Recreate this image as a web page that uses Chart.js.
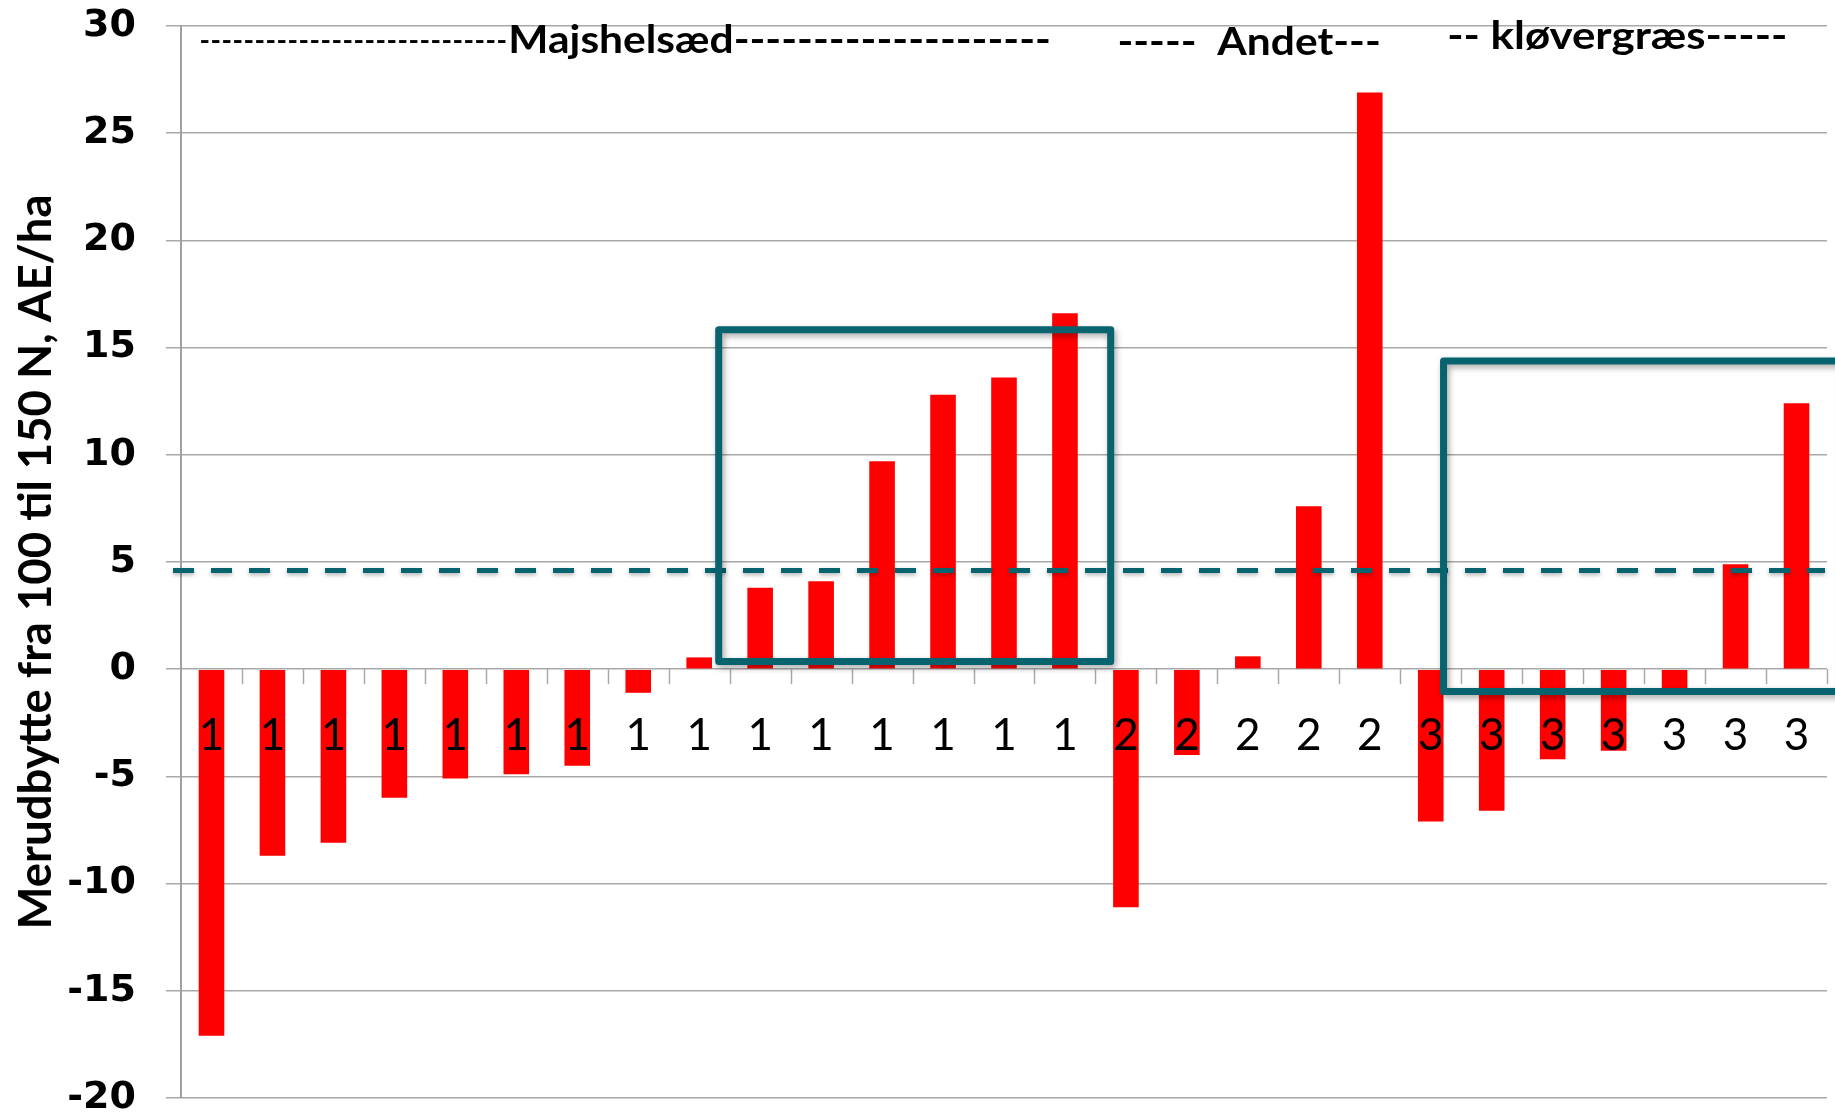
<!DOCTYPE html>
<html>
<head>
<meta charset="utf-8">
<script src="https://cdn.jsdelivr.net/npm/chart.js@4.4.1/dist/chart.umd.min.js"></script>
<style>
    html, body { margin: 0; padding: 0; background: #fff; }
</style>
</head>
<body>
<canvas id="myChart" width="1835" height="1118"></canvas>
<script>
// groups: 1 = Majshelsæd, 2 = Andet, 3 = kløvergræs
const groupLabels = ['1','1','1','1','1','1','1','1','1','1','1','1','1','1','1',
                     '2','2','2','2','2',
                     '3','3','3','3','3','3','3'];
const yieldGain = [-17.1, -8.7, -8.1, -6.0, -5.1, -4.9, -4.5, -1.1, 0.55, 3.8, 4.1, 9.7, 12.8, 13.6, 16.6,
                   -11.1, -4.0, 0.6, 7.6, 26.9,
                   -7.1, -6.6, -4.2, -3.8, -1.0, 4.9, 12.4];
const meanGain = 4.6;
const yMin = -20, yMax = 30, yStep = 5;

// header texts above the bars, placed in category / value units
const headerTexts = ['----------------------------', 'Majshelsæd--------------------', '-----  Andet---', '-- kløvergræs-----'];
const headerFrom = [-0.2, 4.87, 14.86, 20.27];
const headerTo = [4.85, 13.77, 19.18, 25.85];
const headerBase = [28.75, 28.75, 28.66, 28.94];
const headerBold = [false, true, true, true];

// highlight boxes: [fromIndex, toIndex, top value, bottom value]
const boxFrom = [8.32, 20.21];
const boxTo = [14.75, 26.75];
const boxTop = [15.83, 14.38];
const boxBottom = [0.36, -1.04];

const teal = '#07646f';
const gridGrey = '#a8a8a8';

function fitText(ctx, text, x0, x1, y) {
    const w = ctx.measureText(text).width;
    ctx.save();
    ctx.translate(x0, y);
    ctx.scale((x1 - x0) / w, 1);
    ctx.fillText(text, 0, 0);
    ctx.restore();
}

const overlay = {
    id: 'overlay',
    beforeDatasetsDraw(chart) {
        const ctx = chart.ctx, x = chart.scales.x, y = chart.scales.y;
        const y0 = y.getPixelForValue(0);
        // tick marks between categories on the zero line
        ctx.save();
        ctx.strokeStyle = gridGrey;
        ctx.lineWidth = 1.5;
        for (let i = 1; i <= groupLabels.length; i++) {
            const px = Math.round(x.getPixelForValue(i - 0.5)) + 0.5;
            ctx.beginPath();
            ctx.moveTo(px, y0);
            ctx.lineTo(px, y0 + 15);
            ctx.stroke();
        }
        ctx.restore();
    },
    afterDatasetsDraw(chart) {
        const ctx = chart.ctx, x = chart.scales.x, y = chart.scales.y;
        const area = chart.chartArea;

        // category numbers inside the plot
        ctx.save();
        ctx.fillStyle = '#000';
        ctx.font = '44px Lato';
        ctx.textAlign = 'center';
        ctx.textBaseline = 'alphabetic';
        groupLabels.forEach((lab, i) => {
            ctx.fillText(lab, x.getPixelForValue(i), y.getPixelForValue(-3.76));
        });
        ctx.restore();

        // header texts
        ctx.save();
        ctx.fillStyle = '#000';
        ctx.textAlign = 'left';
        ctx.textBaseline = 'alphabetic';
        headerTexts.forEach((t, i) => {
            ctx.font = (headerBold[i] ? 'bold ' : '') + '39px Lato';
            fitText(ctx, t, x.getPixelForValue(headerFrom[i]), x.getPixelForValue(headerTo[i]), y.getPixelForValue(headerBase[i]));
        });
        ctx.restore();

        // mean line
        ctx.save();
        ctx.strokeStyle = teal;
        ctx.lineWidth = 5;
        ctx.setLineDash([21, 17]);
        ctx.shadowColor = 'rgba(0,0,0,0.3)';
        ctx.shadowBlur = 4;
        ctx.shadowOffsetY = 2;
        const ym = y.getPixelForValue(meanGain);
        ctx.beginPath();
        ctx.moveTo(area.left - 8, ym);
        ctx.lineTo(area.right - 2, ym);
        ctx.stroke();
        ctx.restore();

        // highlight boxes
        ctx.save();
        ctx.strokeStyle = teal;
        ctx.lineWidth = 7;
        ctx.lineJoin = 'round';
        ctx.shadowColor = 'rgba(0,0,0,0.35)';
        ctx.shadowBlur = 6;
        ctx.shadowOffsetX = 2;
        ctx.shadowOffsetY = 3;
        boxFrom.forEach((b, i) => {
            const l = x.getPixelForValue(boxFrom[i]);
            const r = x.getPixelForValue(boxTo[i]);
            const t = y.getPixelForValue(boxTop[i]);
            const bt = y.getPixelForValue(boxBottom[i]);
            ctx.strokeRect(l, t, r - l, bt - t);
        });
        ctx.restore();
    }
};

const ctx = document.getElementById('myChart').getContext('2d');
const chart = new Chart(ctx, {
    type: 'bar',
    data: {
        labels: groupLabels,
        datasets: [{
            label: 'Merudbytte',
            data: yieldGain,
            backgroundColor: '#ff0000',
            borderWidth: 0,
            barPercentage: 0.42,
            categoryPercentage: 1.0
        }]
    },
    options: {
        responsive: false,
        animation: false,
        layout: { padding: { left: 0, right: 8, top: 26, bottom: 20 } },
        plugins: {
            legend: { display: false },
            tooltip: { enabled: false }
        },
        scales: {
            x: {
                display: false,
                offset: true
            },
            y: {
                min: yMin,
                max: yMax,
                afterFit: (scale) => {
                    scale.width = 181;
                    scale.paddingTop = 0;
                    scale.paddingBottom = 0;
                },
                ticks: {
                    stepSize: yStep,
                    padding: 30,
                    color: '#000',
                    font: { family: 'DejaVu Sans', weight: 'bold', size: 38, lineHeight: 1 }
                },
                grid: {
                    color: gridGrey,
                    lineWidth: 1.5,
                    tickLength: 15
                },
                border: { color: '#a0a0a0', width: 2 },
                title: {
                    display: true,
                    text: 'Merudbytte fra 100 til 150 N, AE/ha',
                    color: '#000',
                    padding: { top: 9, bottom: 0 },
                    font: { family: 'Lato', weight: 'bold', size: 45.5 }
                }
            }
        }
    },
    plugins: [overlay]
});
</script>
</body>
</html>
